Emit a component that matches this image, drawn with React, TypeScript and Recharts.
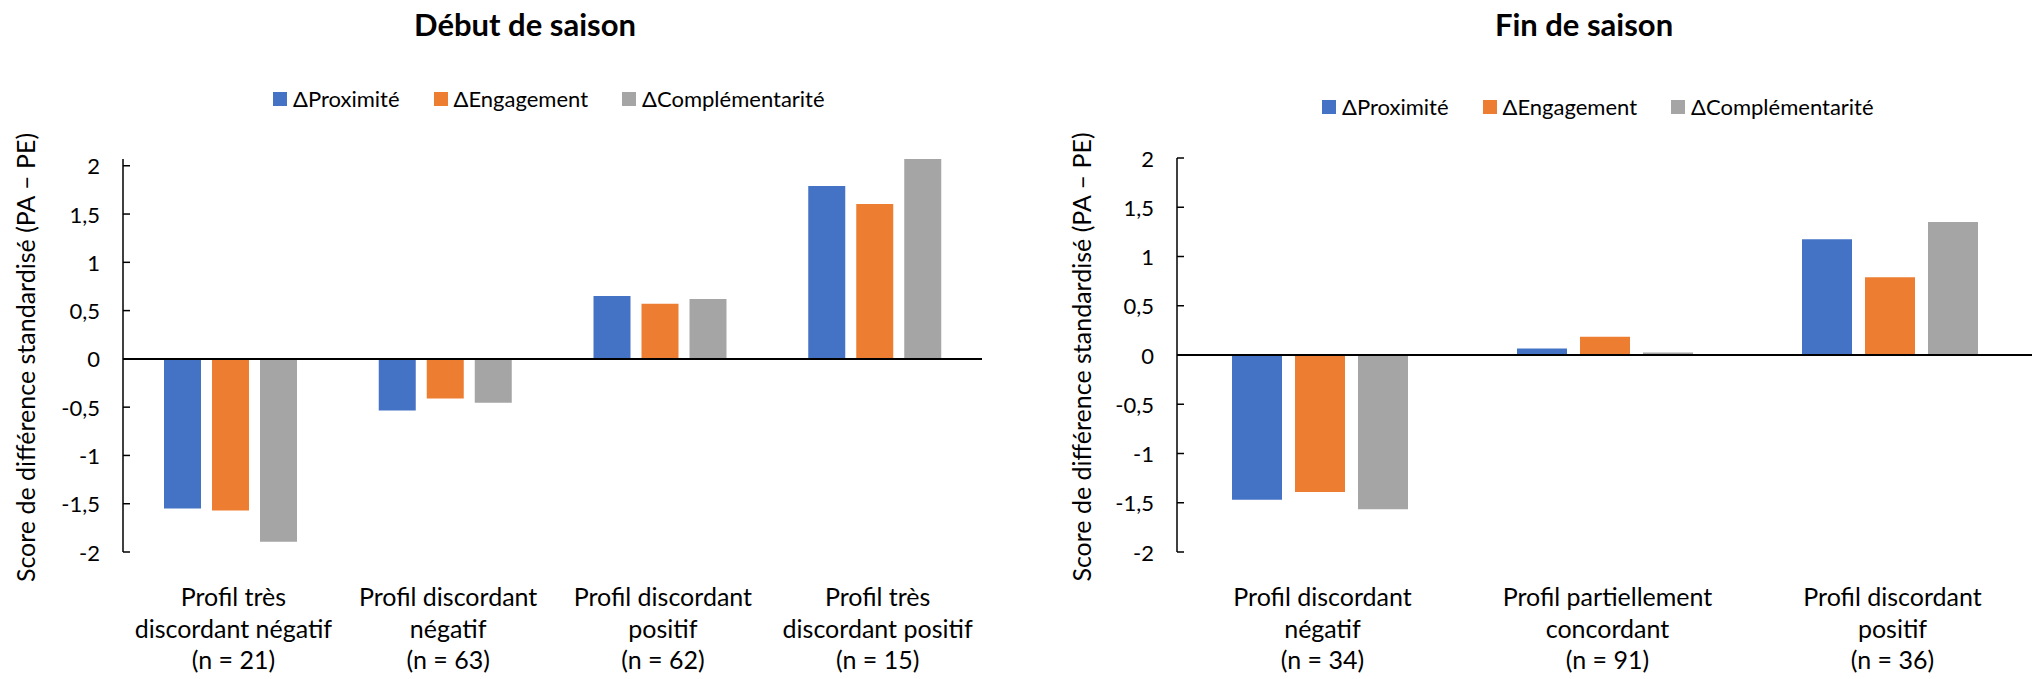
import { Bar, BarChart, Legend, ReferenceLine, XAxis, YAxis } from "recharts";

const seriesNames = ["ΔProximité", "ΔEngagement", "ΔComplémentarité"];
const seriesColors = ["#4472C4", "#ED7D31", "#A5A5A5"];
const yTicks = [-2, -1.5, -1, -0.5, 0, 0.5, 1, 1.5, 2];

// Début de saison
const debutCategories = [
  "Profil très\ndiscordant négatif\n(n = 21)",
  "Profil discordant\nnégatif\n(n = 63)",
  "Profil discordant\npositif\n(n = 62)",
  "Profil très\ndiscordant positif\n(n = 15)",
];
const debutProximite = [-1.55, -0.535, 0.65, 1.79];
const debutEngagement = [-1.57, -0.41, 0.57, 1.605];
const debutComplementarite = [-1.895, -0.455, 0.62, 2.07];

// Fin de saison
const finCategories = [
  "Profil discordant\nnégatif\n(n = 34)",
  "Profil partiellement\nconcordant\n(n = 91)",
  "Profil discordant\npositif\n(n = 36)",
];
const finProximite = [-1.47, 0.065, 1.175];
const finEngagement = [-1.39, 0.185, 0.79];
const finComplementarite = [-1.565, 0.025, 1.35];

const FONT = "Lato, 'Open Sans', sans-serif";
const Y_LABEL = "Score de différence standardisé (PA – PE)";

const fmt = (v: number) => String(v).replace(".", ",");

const makeYTick = (axisX: number) => (props: any) => {
  const { x, y, payload } = props;
  return (
    <g>
      <line x1={axisX} x2={axisX + 7} y1={y} y2={y} stroke="#000" strokeWidth={1.5} />
      <text x={x} y={y} textAnchor="end" dominantBaseline="central" fontSize={22} fontFamily={FONT} fill="#000">
        {fmt(payload.value)}
      </text>
    </g>
  );
};

const CategoryTick = (props: any) => {
  const { x, y, payload } = props;
  const lines = String(payload.value).split("\n");
  return (
    <text textAnchor="middle" dominantBaseline="central" fontSize={25} fontFamily={FONT} fill="#000">
      {lines.map((line, i) => (
        <tspan key={i} x={x + 3} y={y + 44 + i * 31.5}>
          {line}
        </tspan>
      ))}
    </text>
  );
};

const makeLegend = (startX: number) => (props: any) => {
  const payload = [...(props.payload || [])].sort(
    (a: any, b: any) => seriesNames.indexOf(a.value) - seriesNames.indexOf(b.value)
  );
  return (
    <div style={{ display: "flex", alignItems: "center", paddingLeft: startX, height: 14 }}>
      {payload.map((entry: any, i: number) => (
        <div key={i} style={{ display: "flex", alignItems: "center", marginRight: 34 }}>
          <span style={{ width: 14, height: 14, background: entry.color, marginRight: 6 }} />
          <span style={{ fontSize: 22, lineHeight: "14px", fontFamily: FONT, color: "#000", whiteSpace: "nowrap" }}>
            {entry.value}
          </span>
        </div>
      ))}
    </div>
  );
};

interface SaisonChartProps {
  title: string;
  left: number;
  width: number;
  categories: string[];
  proximite: number[];
  engagement: number[];
  complementarite: number[];
  yMax: number;
  axisWidth: number;
  marginTop: number;
  marginRight: number;
  barSize: number;
  barGap: number;
  titleX: number;
  legendX: number;
  legendY: number;
  labelX: number;
}

function SaisonChart(p: SaisonChartProps) {
  const data = p.categories.map((name, i) => ({
    name,
    proximite: p.proximite[i],
    engagement: p.engagement[i],
    complementarite: p.complementarite[i],
  }));
  const keys = ["proximite", "engagement", "complementarite"];

  return (
    <div style={{ position: "absolute", left: p.left, top: 0, width: p.width, height: 679 }}>
      <div
        style={{
          position: "absolute",
          left: p.titleX - 200,
          width: 400,
          top: 9,
          textAlign: "center",
          fontFamily: FONT,
          fontWeight: 700,
          fontSize: 31,
          lineHeight: "30px",
          color: "#000",
          zIndex: 2,
        }}
      >
        {p.title}
      </div>
      <BarChart
        width={p.width}
        height={679}
        data={data}
        margin={{ top: p.marginTop, right: p.marginRight, bottom: 17, left: 0 }}
        barSize={p.barSize}
        barGap={p.barGap}
      >
        <XAxis
          dataKey="name"
          axisLine={false}
          tickLine={false}
          tickSize={0}
          tickMargin={0}
          height={110}
          interval={0}
          tick={<CategoryTick />}
        />
        <YAxis
          width={p.axisWidth}
          domain={[-2, p.yMax]}
          ticks={yTicks}
          allowDataOverflow
          axisLine={{ stroke: "#000", strokeWidth: 1.5 }}
          tickLine={false}
          tickSize={0}
          tickMargin={23}
          tick={makeYTick(p.axisWidth)}
          label={{
            content: ({ viewBox }: any) => {
              const cy = viewBox.y + viewBox.height / 2 + 2;
              return (
                <text
                  x={p.labelX}
                  y={cy}
                  transform={`rotate(-90, ${p.labelX}, ${cy})`}
                  textAnchor="middle"
                  dominantBaseline="central"
                  fontSize={25}
                  fontFamily={FONT}
                  fill="#000"
                >
                  {Y_LABEL}
                </text>
              );
            },
          }}
        />
        <Legend
          verticalAlign="middle"
          align="center"
          wrapperStyle={{ top: p.legendY, left: 0, width: p.width }}
          content={makeLegend(p.legendX)}
        />
        {keys.map((k, i) => (
          <Bar key={k} dataKey={k} name={seriesNames[i]} fill={seriesColors[i]} isAnimationActive={false} />
        ))}
        <ReferenceLine y={0} stroke="#000" strokeWidth={2} />
      </BarChart>
    </div>
  );
}

export default function App() {
  return (
    <div style={{ position: "absolute", left: 0, top: 0, width: 2034, height: 679, background: "#fff" }}>
      <SaisonChart
        title="Début de saison"
        left={0}
        width={1000}
        categories={debutCategories}
        proximite={debutProximite}
        engagement={debutEngagement}
        complementarite={debutComplementarite}
        yMax={2.07}
        axisWidth={123}
        marginTop={159}
        marginRight={18}
        barSize={37}
        barGap={11}
        titleX={525}
        legendX={273}
        legendY={92}
        labelX={25}
      />
      <SaisonChart
        title="Fin de saison"
        left={1040}
        width={994}
        categories={finCategories}
        proximite={finProximite}
        engagement={finEngagement}
        complementarite={finComplementarite}
        yMax={2}
        axisWidth={137}
        marginTop={158}
        marginRight={2}
        barSize={50}
        barGap={13}
        titleX={544}
        legendX={282}
        legendY={100}
        labelX={41}
      />
    </div>
  );
}
